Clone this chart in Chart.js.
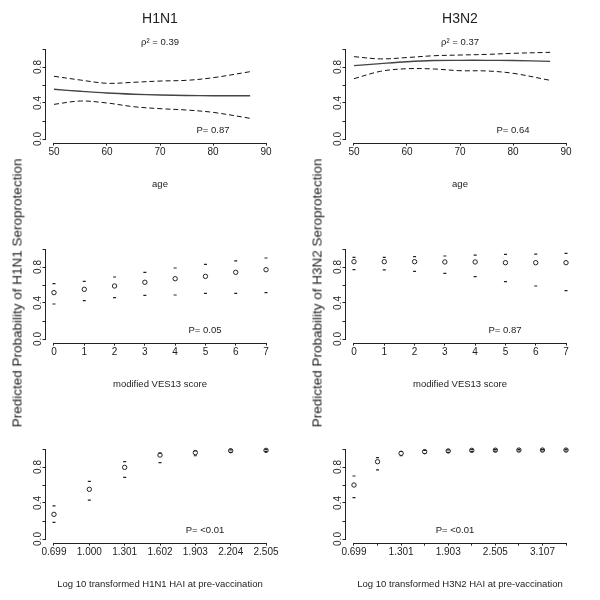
<!DOCTYPE html>
<html>
<head>
<meta charset="utf-8">
<script src="https://cdn.jsdelivr.net/npm/chart.js@4"></script>
<style>
    body { margin: 0; background: #fff; }
    #wrap { position: relative; width: 600px; height: 600px; overflow: hidden; }
    #wrap canvas { position: absolute; }
    .ylab {
        position: absolute;
        font: 13.5px "Liberation Sans", Arial, sans-serif;
        color: #222;
        white-space: nowrap;
        transform: translate(-50%, -50%) rotate(-90deg);
    }
</style>
</head>
<body>
<div id="wrap">
    <canvas id="ageH1" width="300" height="200" style="left:0;top:0"></canvas>
    <canvas id="ageH3" width="300" height="200" style="left:300px;top:0"></canvas>
    <canvas id="vesH1" width="300" height="200" style="left:0;top:200px"></canvas>
    <canvas id="vesH3" width="300" height="200" style="left:300px;top:200px"></canvas>
    <canvas id="haiH1" width="300" height="200" style="left:0;top:400px"></canvas>
    <canvas id="haiH3" width="300" height="200" style="left:300px;top:400px"></canvas>
    <div class="ylab" style="left:17px;top:293px">Predicted Probability of H1N1 Seroprotection</div>
    <div class="ylab" style="left:317px;top:293px">Predicted Probability of H3N2 Seroprotection</div>
</div>
<script>
// age panels
const ages = [50, 55, 60, 65, 70, 75, 80, 87];
const h1AgeFit = [0.552, 0.530, 0.511, 0.498, 0.489, 0.484, 0.481, 0.481];
const h1AgeUpper = [0.697, 0.655, 0.619, 0.630, 0.644, 0.652, 0.681, 0.748];
const h1AgeLower = [0.385, 0.422, 0.400, 0.359, 0.337, 0.322, 0.296, 0.230];
const h3AgeFit = [0.815, 0.838, 0.859, 0.872, 0.874, 0.874, 0.872, 0.863];
const h3AgeUpper = [0.915, 0.890, 0.905, 0.925, 0.933, 0.940, 0.952, 0.963];
const h3AgeLower = [0.670, 0.752, 0.781, 0.778, 0.759, 0.756, 0.730, 0.652];
const ageTicks = [50, 60, 70, 80, 90];

// modified VES13 score panels
const vesScores = [0, 1, 2, 3, 4, 5, 6, 7];
const h1VesFit = [0.515, 0.552, 0.589, 0.630, 0.670, 0.696, 0.741, 0.770];
const h1VesUpper = [0.615, 0.641, 0.689, 0.741, 0.789, 0.830, 0.867, 0.900];
const h1VesLower = [0.389, 0.426, 0.459, 0.485, 0.489, 0.507, 0.507, 0.515];
const h3VesFit = [0.859, 0.859, 0.859, 0.856, 0.856, 0.848, 0.848, 0.848];
const h3VesUpper = [0.907, 0.907, 0.915, 0.922, 0.933, 0.941, 0.944, 0.952];
const h3VesLower = [0.770, 0.767, 0.752, 0.730, 0.693, 0.637, 0.589, 0.537];

// log10 HAI panels
const h1Hai = [0.699, 1.000, 1.301, 1.602, 1.903, 2.204, 2.505];
const h1HaiFit = [0.274, 0.552, 0.796, 0.933, 0.960, 0.981, 0.985];
const h1HaiUpper = [0.367, 0.641, 0.859, 0.955, 0.978, 0.990, 0.994];
const h1HaiLower = [0.185, 0.433, 0.685, 0.848, 0.925, 0.962, 0.972];
const h3Hai = [0.699, 1.000, 1.301, 1.602, 1.903, 2.204, 2.505, 2.806, 3.107, 3.408];
const h3HaiFit = [0.600, 0.859, 0.952, 0.970, 0.978, 0.985, 0.987, 0.988, 0.988, 0.988];
const h3HaiUpper = [0.700, 0.904, 0.972, 0.985, 0.990, 0.994, 0.995, 0.996, 0.996, 0.996];
const h3HaiLower = [0.459, 0.767, 0.925, 0.950, 0.962, 0.972, 0.976, 0.978, 0.978, 0.978];

const yTicks = [0, 0.2, 0.4, 0.6, 0.8, 1.0];
const yTickLabels = ["0.0", "", "0.4", "", "0.8", ""];

const fontFamily = "'Liberation Sans', Arial, sans-serif";
const ink = "#222";
Chart.defaults.font.family = fontFamily;
Chart.defaults.color = ink;

// R-style axis lines: only from first to last tick
const rAxes = {
    id: "rAxes",
    afterDraw(chart) {
        const c = chart.ctx;
        const a = chart.chartArea;
        const xs = chart.scales.x;
        const ys = chart.scales.y;
        const by = Math.round(a.bottom) + 0.5;
        const lx = Math.round(a.left) - 0.5;
        c.save();
        c.strokeStyle = ink;
        c.lineWidth = 1;
        c.beginPath();
        c.moveTo(xs.getPixelForValue(xs.ticks[0].value), by);
        c.lineTo(xs.getPixelForValue(xs.ticks[xs.ticks.length - 1].value), by);
        c.moveTo(lx, ys.getPixelForValue(ys.ticks[0].value));
        c.lineTo(lx, ys.getPixelForValue(ys.ticks[ys.ticks.length - 1].value));
        c.stroke();
        c.restore();
    }
};

const panelText = {
    id: "panelText",
    afterDraw(chart, args, opts) {
        const c = chart.ctx;
        (opts.items || []).forEach(t => {
            c.save();
            c.font = t.size + "px " + fontFamily;
            c.fillStyle = ink;
            c.textAlign = "center";
            c.textBaseline = "middle";
            c.fillText(t.text, t.x, t.y);
            c.restore();
        });
    }
};

function pts(xs, ys) {
    return xs.map((x, i) => ({ x: x, y: ys[i] }));
}

function curveSets(xs, fit, upper, lower) {
    const base = { type: "line", pointRadius: 0, borderWidth: 1, tension: 0.35, fill: false };
    return [
        Object.assign({}, base, { data: pts(xs, fit), borderColor: "#444", borderWidth: 1.4 }),
        Object.assign({}, base, { data: pts(xs, upper), borderColor: "#111", borderDash: [5, 3] }),
        Object.assign({}, base, { data: pts(xs, lower), borderColor: "#111", borderDash: [5, 3] })
    ];
}

function pointSets(xs, fit, upper, lower) {
    const dash = { type: "scatter", pointStyle: "line", pointRadius: 1.5, borderWidth: 1.2, borderColor: ink };
    return [
        { type: "scatter", data: pts(xs, fit), pointStyle: "circle", pointRadius: 2.2, borderWidth: 1,
          borderColor: ink, backgroundColor: "rgba(0,0,0,0)" },
        Object.assign({}, dash, { data: pts(xs, upper) }),
        Object.assign({}, dash, { data: pts(xs, lower) })
    ];
}

function axisStyle() {
    return {
        display: true,
        drawOnChartArea: false,
        drawTicks: true,
        tickLength: 3,
        color: ink
    };
}

function makePanel(id, xTicks, xLabel, xTitle, datasets, texts) {
    const span = xTicks[xTicks.length - 1] - xTicks[0];
    new Chart(document.getElementById(id), {
        type: "scatter",
        data: { datasets: datasets },
        options: {
            responsive: false,
            animation: false,
            events: [],
            layout: { padding: { left: 0, top: 45.4, right: 25.5, bottom: 10.3 } },
            plugins: {
                legend: { display: false },
                tooltip: { enabled: false },
                panelText: { items: texts }
            },
            scales: {
                x: {
                    type: "linear",
                    min: xTicks[0] - span * 0.04,
                    max: xTicks[xTicks.length - 1] + span * 0.04,
                    afterBuildTicks: s => { s.ticks = xTicks.map(v => ({ value: v })); },
                    afterFit: s => { s.height = 47.1; },
                    grid: axisStyle(),
                    border: { display: false },
                    ticks: {
                        font: { size: 10 },
                        color: ink,
                        padding: 1,
                        autoSkip: false,
                        maxRotation: 0,
                        callback: (v, i) => xLabel(v, i)
                    },
                    title: { display: true, text: xTitle, color: ink, font: { size: 9.5 }, padding: { top: 0, bottom: 0 } }
                },
                y: {
                    type: "linear",
                    min: -0.04,
                    max: 1.04,
                    afterBuildTicks: s => { s.ticks = yTicks.map(v => ({ value: v })); },
                    afterFit: s => { s.width = 45.5; },
                    grid: axisStyle(),
                    border: { display: false },
                    ticks: {
                        font: { size: 10 },
                        color: ink,
                        autoSkip: false,
                        minRotation: 90,
                        maxRotation: 90,
                        crossAlign: "center",
                        padding: -3,
                        callback: (v, i) => yTickLabels[i]
                    }
                }
            }
        },
        plugins: [rAxes, panelText]
    });
}

const plain = v => String(v);
const three = v => v.toFixed(3);
const everyOther = (v, i) => (i % 2 === 0 ? v.toFixed(3) : "");

makePanel("ageH1", ageTicks, plain, "age",
    curveSets(ages, h1AgeFit, h1AgeUpper, h1AgeLower),
    [{ text: "H1N1", x: 160, y: 19, size: 14 },
     { text: "\u03c1\u00b2 = 0.39", x: 160, y: 42, size: 9.5 },
     { text: "P= 0.87", x: 213, y: 130, size: 9.5 }]);

makePanel("ageH3", ageTicks, plain, "age",
    curveSets(ages, h3AgeFit, h3AgeUpper, h3AgeLower),
    [{ text: "H3N2", x: 160, y: 19, size: 14 },
     { text: "\u03c1\u00b2 = 0.37", x: 160, y: 42, size: 9.5 },
     { text: "P= 0.64", x: 213, y: 130, size: 9.5 }]);

makePanel("vesH1", vesScores, plain, "modified VES13 score",
    pointSets(vesScores, h1VesFit, h1VesUpper, h1VesLower),
    [{ text: "P= 0.05", x: 205, y: 130, size: 9.5 }]);

makePanel("vesH3", vesScores, plain, "modified VES13 score",
    pointSets(vesScores, h3VesFit, h3VesUpper, h3VesLower),
    [{ text: "P= 0.87", x: 205, y: 130, size: 9.5 }]);

makePanel("haiH1", h1Hai, three, "Log 10 transformed H1N1 HAI at pre-vaccination",
    pointSets(h1Hai, h1HaiFit, h1HaiUpper, h1HaiLower),
    [{ text: "P= <0.01", x: 205, y: 130, size: 9.5 }]);

makePanel("haiH3", h3Hai, everyOther, "Log 10 transformed H3N2 HAI at pre-vaccination",
    pointSets(h3Hai, h3HaiFit, h3HaiUpper, h3HaiLower),
    [{ text: "P= <0.01", x: 155, y: 130, size: 9.5 }]);
</script>
</body>
</html>
